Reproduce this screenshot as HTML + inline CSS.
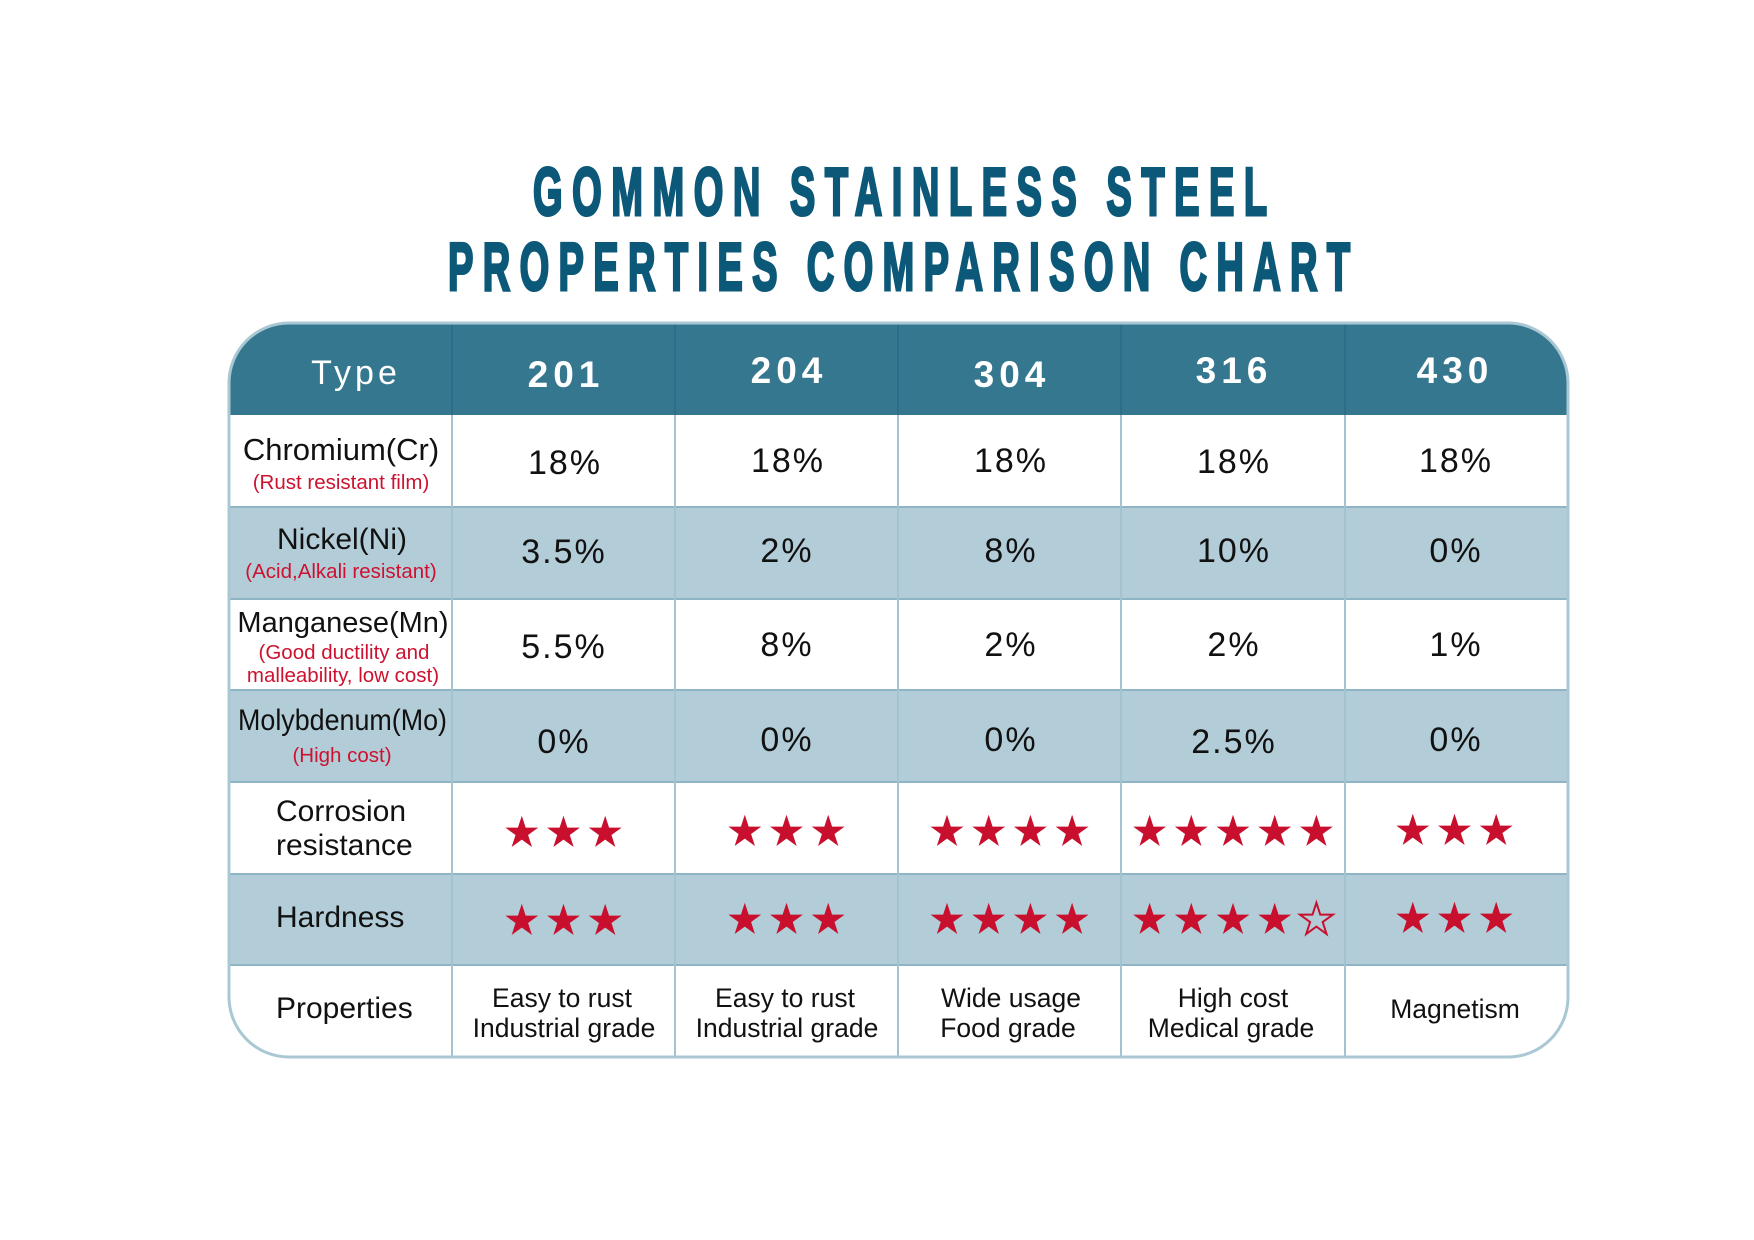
<!DOCTYPE html>
<html>
<head>
<meta charset="utf-8">
<style>
html,body{margin:0;padding:0;background:#fff;}
svg{display:block;}
text{font-family:"Liberation Sans",sans-serif;}
</style>
</head>
<body>
<svg width="1754" height="1240" viewBox="0 0 1754 1240" xmlns="http://www.w3.org/2000/svg">
<defs>
<clipPath id="tbl"><path d="M289,323 H1508 A60,60 0 0 1 1568,383 V997 A60,60 0 0 1 1508,1057 H289 A60,60 0 0 1 229,997 V383 A60,60 0 0 1 289,323 Z"/></clipPath>
</defs>
<rect width="1754" height="1240" fill="#fff"/>

<!-- Title -->
<g transform="translate(533 215) scale(0.56 1)">
<text x="0" y="0" font-size="68" font-weight="700" fill="#0c5878" stroke="#0c5878" stroke-width="3" textLength="1311" lengthAdjust="spacing">GOMMON STAINLESS STEEL</text>
</g>
<g transform="translate(448 290) scale(0.56 1)">
<text x="0" y="0" font-size="68" font-weight="700" fill="#0c5878" stroke="#0c5878" stroke-width="3" textLength="1611" lengthAdjust="spacing">PROPERTIES COMPARISON CHART</text>
</g>

<!-- Table body -->
<path d="M289,323 H1508 A60,60 0 0 1 1568,383 V997 A60,60 0 0 1 1508,1057 H289 A60,60 0 0 1 229,997 V383 A60,60 0 0 1 289,323 Z" fill="#fff"/>
<g clip-path="url(#tbl)">
<rect x="229" y="323" width="1339" height="92" fill="#367790"/>
<rect x="229" y="507" width="1339" height="92" fill="#b3cdd8"/>
<rect x="229" y="690" width="1339" height="92" fill="#b3cdd8"/>
<rect x="229" y="874" width="1339" height="91" fill="#b3cdd8"/>
</g>

<!-- row lines -->
<g stroke="#8fb4c4" stroke-width="2">
<line x1="229" y1="507" x2="1568" y2="507"/>
<line x1="229" y1="599" x2="1568" y2="599"/>
<line x1="229" y1="690" x2="1568" y2="690"/>
<line x1="229" y1="782" x2="1568" y2="782"/>
<line x1="229" y1="874" x2="1568" y2="874"/>
<line x1="229" y1="965" x2="1568" y2="965"/>
</g>
<!-- column lines -->
<g stroke="#2c6a84" stroke-width="1.5">
<line x1="452" y1="323" x2="452" y2="415"/>
<line x1="675" y1="323" x2="675" y2="415"/>
<line x1="898" y1="323" x2="898" y2="415"/>
<line x1="1121" y1="323" x2="1121" y2="415"/>
<line x1="1345" y1="323" x2="1345" y2="415"/>
</g>
<g stroke="#a3c3d0" stroke-width="2">
<line x1="452" y1="415" x2="452" y2="1057"/>
<line x1="675" y1="415" x2="675" y2="1057"/>
<line x1="898" y1="415" x2="898" y2="1057"/>
<line x1="1121" y1="415" x2="1121" y2="1057"/>
<line x1="1345" y1="415" x2="1345" y2="1057"/>
</g>
<!-- outer border -->
<path d="M289,323 H1508 A60,60 0 0 1 1568,383 V997 A60,60 0 0 1 1508,1057 H289 A60,60 0 0 1 229,997 V383 A60,60 0 0 1 289,323 Z" fill="none" stroke="#a9c8d4" stroke-width="3"/>

<!-- Header text -->
<text x="356" y="384" font-size="34" fill="#fff" letter-spacing="4" text-anchor="middle">Type</text>
<g font-size="37" font-weight="700" fill="#fff" letter-spacing="5" text-anchor="middle">
<text x="566" y="387">201</text>
<text x="789" y="383">204</text>
<text x="1012" y="387">304</text>
<text x="1234" y="383">316</text>
<text x="1455" y="383">430</text>
</g>

<!-- Row labels -->
<g fill="#111" text-anchor="middle">
<text x="341" y="460" font-size="31">Chromium(Cr)</text>
<text x="342" y="549" font-size="30">Nickel(Ni)</text>
<text x="343" y="632" font-size="29">Manganese(Mn)</text>
</g>
<text x="238" y="730" font-size="30" fill="#111" textLength="209" lengthAdjust="spacingAndGlyphs">Molybdenum(Mo)</text>
<g fill="#111" font-size="30">
<text x="276" y="821">Corrosion</text>
<text x="276" y="855">resistance</text>
<text x="276" y="927">Hardness</text>
<text x="276" y="1018">Properties</text>
</g>
<g fill="#cc1230" font-size="20.5" text-anchor="middle">
<text x="341" y="489">(Rust resistant film)</text>
<text x="341" y="578">(Acid,Alkali resistant)</text>
<text x="344" y="659">(Good ductility and</text>
<text x="343" y="682">malleability, low cost)</text>
<text x="342" y="762">(High cost)</text>
</g>

<!-- Values -->
<g fill="#111" font-size="34" letter-spacing="2" text-anchor="middle">
<text x="565" y="474">18%</text>
<text x="788" y="472">18%</text>
<text x="1011" y="472">18%</text>
<text x="1234" y="473">18%</text>
<text x="1456" y="472">18%</text>

<text x="564" y="563">3.5%</text>
<text x="787" y="562">2%</text>
<text x="1011" y="562">8%</text>
<text x="1234" y="562">10%</text>
<text x="1456" y="562">0%</text>

<text x="564" y="658">5.5%</text>
<text x="787" y="656">8%</text>
<text x="1011" y="656">2%</text>
<text x="1234" y="656">2%</text>
<text x="1456" y="656">1%</text>

<text x="564" y="753">0%</text>
<text x="787" y="751">0%</text>
<text x="1011" y="751">0%</text>
<text x="1234" y="753">2.5%</text>
<text x="1456" y="751">0%</text>
</g>

<!-- Properties texts -->
<g fill="#111" font-size="26.5" text-anchor="middle">
<text x="562" y="1007">Easy to rust</text>
<text x="564" y="1037">Industrial grade</text>
<text x="785" y="1007">Easy to rust</text>
<text x="787" y="1037">Industrial grade</text>
<text x="1011" y="1007">Wide usage</text>
<text x="1008" y="1037">Food grade</text>
<text x="1233" y="1007">High cost</text>
<text x="1231" y="1037">Medical grade</text>
<text x="1455" y="1018">Magnetism</text>
</g>

<!-- Stars -->
<g fill="#c8102e">
<!-- corrosion -->
<polygon transform="translate(521.8 833)" points="0,-17.3 3.88,-5.34 16.45,-5.35 6.28,2.04 10.17,14 0,6.6 -10.17,14 -6.28,2.04 -16.45,-5.35 -3.88,-5.34"/>
<polygon transform="translate(563.5 833)" points="0,-17.3 3.88,-5.34 16.45,-5.35 6.28,2.04 10.17,14 0,6.6 -10.17,14 -6.28,2.04 -16.45,-5.35 -3.88,-5.34"/>
<polygon transform="translate(605.2 833)" points="0,-17.3 3.88,-5.34 16.45,-5.35 6.28,2.04 10.17,14 0,6.6 -10.17,14 -6.28,2.04 -16.45,-5.35 -3.88,-5.34"/>

<polygon transform="translate(744.8 832)" points="0,-17.3 3.88,-5.34 16.45,-5.35 6.28,2.04 10.17,14 0,6.6 -10.17,14 -6.28,2.04 -16.45,-5.35 -3.88,-5.34"/>
<polygon transform="translate(786.5 832)" points="0,-17.3 3.88,-5.34 16.45,-5.35 6.28,2.04 10.17,14 0,6.6 -10.17,14 -6.28,2.04 -16.45,-5.35 -3.88,-5.34"/>
<polygon transform="translate(828.2 832)" points="0,-17.3 3.88,-5.34 16.45,-5.35 6.28,2.04 10.17,14 0,6.6 -10.17,14 -6.28,2.04 -16.45,-5.35 -3.88,-5.34"/>

<polygon transform="translate(947 832)" points="0,-17.3 3.88,-5.34 16.45,-5.35 6.28,2.04 10.17,14 0,6.6 -10.17,14 -6.28,2.04 -16.45,-5.35 -3.88,-5.34"/>
<polygon transform="translate(988.7 832)" points="0,-17.3 3.88,-5.34 16.45,-5.35 6.28,2.04 10.17,14 0,6.6 -10.17,14 -6.28,2.04 -16.45,-5.35 -3.88,-5.34"/>
<polygon transform="translate(1030.4 832)" points="0,-17.3 3.88,-5.34 16.45,-5.35 6.28,2.04 10.17,14 0,6.6 -10.17,14 -6.28,2.04 -16.45,-5.35 -3.88,-5.34"/>
<polygon transform="translate(1072.1 832)" points="0,-17.3 3.88,-5.34 16.45,-5.35 6.28,2.04 10.17,14 0,6.6 -10.17,14 -6.28,2.04 -16.45,-5.35 -3.88,-5.34"/>

<polygon transform="translate(1149.6 832)" points="0,-17.3 3.88,-5.34 16.45,-5.35 6.28,2.04 10.17,14 0,6.6 -10.17,14 -6.28,2.04 -16.45,-5.35 -3.88,-5.34"/>
<polygon transform="translate(1191.3 832)" points="0,-17.3 3.88,-5.34 16.45,-5.35 6.28,2.04 10.17,14 0,6.6 -10.17,14 -6.28,2.04 -16.45,-5.35 -3.88,-5.34"/>
<polygon transform="translate(1233 832)" points="0,-17.3 3.88,-5.34 16.45,-5.35 6.28,2.04 10.17,14 0,6.6 -10.17,14 -6.28,2.04 -16.45,-5.35 -3.88,-5.34"/>
<polygon transform="translate(1274.7 832)" points="0,-17.3 3.88,-5.34 16.45,-5.35 6.28,2.04 10.17,14 0,6.6 -10.17,14 -6.28,2.04 -16.45,-5.35 -3.88,-5.34"/>
<polygon transform="translate(1316.4 832)" points="0,-17.3 3.88,-5.34 16.45,-5.35 6.28,2.04 10.17,14 0,6.6 -10.17,14 -6.28,2.04 -16.45,-5.35 -3.88,-5.34"/>

<polygon transform="translate(1412.8 831)" points="0,-17.3 3.88,-5.34 16.45,-5.35 6.28,2.04 10.17,14 0,6.6 -10.17,14 -6.28,2.04 -16.45,-5.35 -3.88,-5.34"/>
<polygon transform="translate(1454.5 831)" points="0,-17.3 3.88,-5.34 16.45,-5.35 6.28,2.04 10.17,14 0,6.6 -10.17,14 -6.28,2.04 -16.45,-5.35 -3.88,-5.34"/>
<polygon transform="translate(1496.2 831)" points="0,-17.3 3.88,-5.34 16.45,-5.35 6.28,2.04 10.17,14 0,6.6 -10.17,14 -6.28,2.04 -16.45,-5.35 -3.88,-5.34"/>

<!-- hardness -->
<polygon transform="translate(521.8 921)" points="0,-17.3 3.88,-5.34 16.45,-5.35 6.28,2.04 10.17,14 0,6.6 -10.17,14 -6.28,2.04 -16.45,-5.35 -3.88,-5.34"/>
<polygon transform="translate(563.5 921)" points="0,-17.3 3.88,-5.34 16.45,-5.35 6.28,2.04 10.17,14 0,6.6 -10.17,14 -6.28,2.04 -16.45,-5.35 -3.88,-5.34"/>
<polygon transform="translate(605.2 921)" points="0,-17.3 3.88,-5.34 16.45,-5.35 6.28,2.04 10.17,14 0,6.6 -10.17,14 -6.28,2.04 -16.45,-5.35 -3.88,-5.34"/>

<polygon transform="translate(744.8 920)" points="0,-17.3 3.88,-5.34 16.45,-5.35 6.28,2.04 10.17,14 0,6.6 -10.17,14 -6.28,2.04 -16.45,-5.35 -3.88,-5.34"/>
<polygon transform="translate(786.5 920)" points="0,-17.3 3.88,-5.34 16.45,-5.35 6.28,2.04 10.17,14 0,6.6 -10.17,14 -6.28,2.04 -16.45,-5.35 -3.88,-5.34"/>
<polygon transform="translate(828.2 920)" points="0,-17.3 3.88,-5.34 16.45,-5.35 6.28,2.04 10.17,14 0,6.6 -10.17,14 -6.28,2.04 -16.45,-5.35 -3.88,-5.34"/>

<polygon transform="translate(947 920)" points="0,-17.3 3.88,-5.34 16.45,-5.35 6.28,2.04 10.17,14 0,6.6 -10.17,14 -6.28,2.04 -16.45,-5.35 -3.88,-5.34"/>
<polygon transform="translate(988.7 920)" points="0,-17.3 3.88,-5.34 16.45,-5.35 6.28,2.04 10.17,14 0,6.6 -10.17,14 -6.28,2.04 -16.45,-5.35 -3.88,-5.34"/>
<polygon transform="translate(1030.4 920)" points="0,-17.3 3.88,-5.34 16.45,-5.35 6.28,2.04 10.17,14 0,6.6 -10.17,14 -6.28,2.04 -16.45,-5.35 -3.88,-5.34"/>
<polygon transform="translate(1072.1 920)" points="0,-17.3 3.88,-5.34 16.45,-5.35 6.28,2.04 10.17,14 0,6.6 -10.17,14 -6.28,2.04 -16.45,-5.35 -3.88,-5.34"/>

<polygon transform="translate(1149.6 920)" points="0,-17.3 3.88,-5.34 16.45,-5.35 6.28,2.04 10.17,14 0,6.6 -10.17,14 -6.28,2.04 -16.45,-5.35 -3.88,-5.34"/>
<polygon transform="translate(1191.3 920)" points="0,-17.3 3.88,-5.34 16.45,-5.35 6.28,2.04 10.17,14 0,6.6 -10.17,14 -6.28,2.04 -16.45,-5.35 -3.88,-5.34"/>
<polygon transform="translate(1233 920)" points="0,-17.3 3.88,-5.34 16.45,-5.35 6.28,2.04 10.17,14 0,6.6 -10.17,14 -6.28,2.04 -16.45,-5.35 -3.88,-5.34"/>
<polygon transform="translate(1274.7 920)" points="0,-17.3 3.88,-5.34 16.45,-5.35 6.28,2.04 10.17,14 0,6.6 -10.17,14 -6.28,2.04 -16.45,-5.35 -3.88,-5.34"/>

<polygon transform="translate(1412.8 919)" points="0,-17.3 3.88,-5.34 16.45,-5.35 6.28,2.04 10.17,14 0,6.6 -10.17,14 -6.28,2.04 -16.45,-5.35 -3.88,-5.34"/>
<polygon transform="translate(1454.5 919)" points="0,-17.3 3.88,-5.34 16.45,-5.35 6.28,2.04 10.17,14 0,6.6 -10.17,14 -6.28,2.04 -16.45,-5.35 -3.88,-5.34"/>
<polygon transform="translate(1496.2 919)" points="0,-17.3 3.88,-5.34 16.45,-5.35 6.28,2.04 10.17,14 0,6.6 -10.17,14 -6.28,2.04 -16.45,-5.35 -3.88,-5.34"/>
</g>
<polygon transform="translate(1316.4 920)" fill="none" stroke="#c8102e" stroke-width="2" stroke-linejoin="miter" points="0,-17.3 3.88,-5.34 16.45,-5.35 6.28,2.04 10.17,14 0,6.6 -10.17,14 -6.28,2.04 -16.45,-5.35 -3.88,-5.34"/>
</svg>
</body>
</html>
